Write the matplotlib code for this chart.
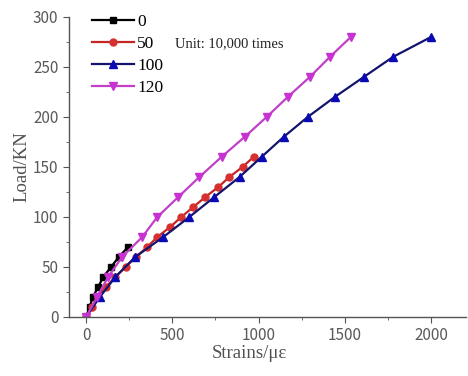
import numpy as np
import matplotlib
matplotlib.use('Agg')
from matplotlib import pyplot as plt
from matplotlib.ticker import MultipleLocator

# strain (x) and load (y) per series
strain_0 = [0, 20, 40, 70, 100, 145, 190, 244]
load_0 = [0, 10, 20, 30, 40, 50, 60, 70]

strain_50 = [0, 35, 70, 115, 170, 230, 290, 355, 413, 488, 552, 622, 692, 767, 831, 907, 971]
load_50 = [0, 10, 20, 30, 40, 50, 60, 70, 80, 90, 100, 110, 120, 130, 140, 150, 160]

strain_100 = [0, 80, 170, 285, 448, 599, 744, 890, 1017, 1145, 1285, 1442, 1610, 1779, 2000]
load_100 = [0, 20, 40, 60, 80, 100, 120, 140, 160, 180, 200, 220, 240, 260, 280]

strain_120 = [0, 64, 128, 209, 326, 413, 535, 657, 785, 919, 1047, 1169, 1297, 1413, 1535]
load_120 = [0, 20, 40, 60, 80, 100, 120, 140, 160, 180, 200, 220, 240, 260, 280]

labels = ['0', '50', '100', '120']

fig = plt.figure(figsize=(4.68, 3.76), dpi=100)
ax = fig.add_axes([0.147, 0.157, 0.848, 0.798])

ax.plot(strain_0, load_0, color='black', marker='s', ms=4.5, lw=1.6, label=labels[0])
ax.plot(strain_50, load_50, color='#c42626', marker='o', ms=5, lw=1.6,
        mfc='#d63030', mec='#d63030', label=labels[1])
ax.plot(strain_100, load_100, color='#14146e', marker='^', ms=6, lw=1.6,
        mfc='#0a0ab4', mec='#0a0ab4', label=labels[2])
ax.plot(strain_120, load_120, color='#c040c8', marker='v', ms=6, lw=1.6,
        mfc='#c832d2', mec='#c832d2', label=labels[3])

ax.set_xlim(-100, 2200)
ax.set_ylim(0, 300)
ax.xaxis.set_major_locator(MultipleLocator(500))
ax.xaxis.set_minor_locator(MultipleLocator(250))
ax.yaxis.set_major_locator(MultipleLocator(50))
ax.yaxis.set_minor_locator(MultipleLocator(25))

grey = '#555555'
for s in ['top', 'right']:
    ax.spines[s].set_visible(False)
for s in ['left', 'bottom']:
    ax.spines[s].set_color(grey)
    ax.spines[s].set_linewidth(1.0)
ax.tick_params(which='both', colors=grey, labelcolor='#5a5a5a', labelsize=11)
ax.tick_params(which='major', length=4)
ax.tick_params(which='minor', length=2.5)
for t in ax.get_xticklabels() + ax.get_yticklabels():
    t.set_family('Noto Sans CJK SC')

ax.set_xlabel('Strains/με', fontsize=13.5, color='#505050', family='Liberation Serif', labelpad=3)
ax.xaxis.set_label_coords((250 - 69) / 398, -0.095)
ax.set_ylabel('Load/KN', fontsize=13.5, color='#505050', family='Liberation Serif', labelpad=2)

leg = ax.legend(loc='upper left', bbox_to_anchor=(0.028, 1.052), frameon=False,
                prop={'family': 'Liberation Serif', 'size': 12.5},
                handlelength=2.4, handletextpad=0.2, labelspacing=0.35, borderaxespad=0.3)

# unit note, placed in figure pixel coords (from top-left)
fig.text(175 / 468, 1 - 44 / 376, 'Unit: 10,000 times', fontsize=10.5,
         family='Liberation Serif', va='center', ha='left', color='#222222')

fig.savefig('out.png', dpi=100)
